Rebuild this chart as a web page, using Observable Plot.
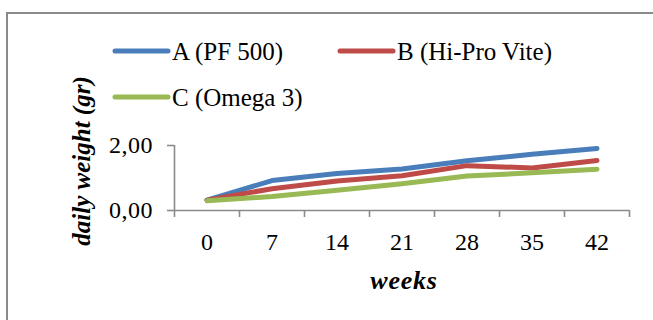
<!DOCTYPE html>
<html>
<head>
<meta charset="utf-8">
<script src="https://cdn.jsdelivr.net/npm/d3@7"></script>
<script src="https://cdn.jsdelivr.net/npm/@observablehq/plot@0.6"></script>
<style>
  html, body { margin: 0; padding: 0; background: #fff; }
  #wrap { position: relative; width: 653px; height: 320px; overflow: hidden; font-family: "Liberation Serif", serif; }
  #frame { position: absolute; left: 6px; top: 12px; width: 660px; height: 320px; border-top: 2px solid #8a8a8a; border-left: 2px solid #8a8a8a; box-sizing: border-box; }
  #chart { position: absolute; left: 0; top: 0; }
  #legend { position: absolute; left: 0; top: 0; }
  #legend text { font-family: "Liberation Serif", serif; font-size: 25px; }
</style>
</head>
<body>
<div id="wrap">
  <div id="frame"></div>
  <div id="chart"></div>
  <svg id="legend" width="653" height="120"></svg>
</div>
<script>
const weeks = [0, 7, 14, 21, 28, 35, 42];
const seriesNames = ["A (PF 500)", "B (Hi-Pro Vite)", "C (Omega 3)"];
const seriesA = [0.32, 0.92, 1.14, 1.28, 1.53, 1.73, 1.91];
const seriesB = [0.32, 0.67, 0.91, 1.07, 1.38, 1.31, 1.54];
const seriesC = [0.30, 0.43, 0.62, 0.82, 1.06, 1.16, 1.27];
const colors = ["#4A7EBB", "#BE4B48", "#98B954"];
const yTicks = [0, 2];
const xBoundaries = [-3.5, 3.5, 10.5, 17.5, 24.5, 31.5, 38.5, 45.5];
const xTitle = "weeks";
const yTitle = "daily weight (gr)";

const allSeries = [seriesA, seriesB, seriesC];
const data = [];
allSeries.forEach((vals, s) => vals.forEach((v, i) => data.push({week: weeks[i], value: v, series: seriesNames[s]})));

const gray = "#8a8a8a";
const font = "Liberation Serif";
const fmt = d => d.toFixed(2).replace(".", ",");

const plot = Plot.plot({
  width: 653,
  height: 320,
  marginLeft: 174,
  marginRight: 24,
  marginTop: 145,
  marginBottom: 110,
  style: {fontFamily: font, fontSize: "24px", color: "#000", background: "transparent", overflow: "visible"},
  x: {type: "linear", domain: [-3.5, 45.5], axis: null},
  y: {domain: [0, 2], axis: null},
  color: {domain: seriesNames, range: colors},
  marks: [
    Plot.ruleX([-3.5], {stroke: gray, strokeWidth: 1.6}),
    Plot.ruleY([0], {stroke: gray, strokeWidth: 1.6}),
    Plot.axisX({ticks: xBoundaries, tickSize: 7, tickFormat: () => "", label: null, stroke: gray, strokeWidth: 1.6}),
    Plot.axisX({ticks: weeks, tickSize: 0, tickPadding: 22, label: null, tickFormat: d => String(d), fill: "#000", fontSize: 24}),
    Plot.axisY({ticks: yTicks, tickSize: 7, tickPadding: 14.5, label: null, stroke: gray, strokeWidth: 1.6, fill: "#000", fontSize: 24, tickFormat: fmt}),
    Plot.line(data, {x: "week", y: "value", z: "series", stroke: "series", strokeWidth: 5, strokeLinecap: "round", strokeLinejoin: "round"}),
    Plot.text([xTitle], {text: d => d, frameAnchor: "bottom", textAnchor: "middle", lineAnchor: "middle", dx: 2, dy: 70, fontSize: 26, fontWeight: "bold", fontStyle: "italic", fill: "#000"}),
    Plot.text([yTitle], {text: d => d, frameAnchor: "left", textAnchor: "middle", lineAnchor: "middle", dx: -93, dy: -17, rotate: -90, fontSize: 25, fontWeight: "bold", fontStyle: "italic", fill: "#000"})
  ]
});
document.getElementById("chart").appendChild(plot);

// slight widening to approximate the reference's Garamond-like face
const spacing = new Map([[xTitle, 0.8]]);
yTicks.forEach(t => spacing.set(fmt(t), 0.5));
d3.select(plot).selectAll("text").each(function() {
  const s = spacing.get(this.textContent);
  if (s != null) this.style.letterSpacing = s + "px";
});

// legend
const legendPos = [[113, 51], [338, 51], [113, 97]];
const lg = d3.select("#legend");
seriesNames.forEach((name, i) => {
  const [lx, ly] = legendPos[i];
  lg.append("line").attr("x1", lx + 2).attr("x2", lx + 55).attr("y1", ly).attr("y2", ly)
    .attr("stroke", colors[i]).attr("stroke-width", 5).attr("stroke-linecap", "round");
  lg.append("text").attr("x", lx + 59).attr("y", ly).attr("dy", "0.35em")
    .attr("font-family", font).attr("font-size", 25).attr("fill", "#000").text(name);
});
</script>
</body>
</html>
